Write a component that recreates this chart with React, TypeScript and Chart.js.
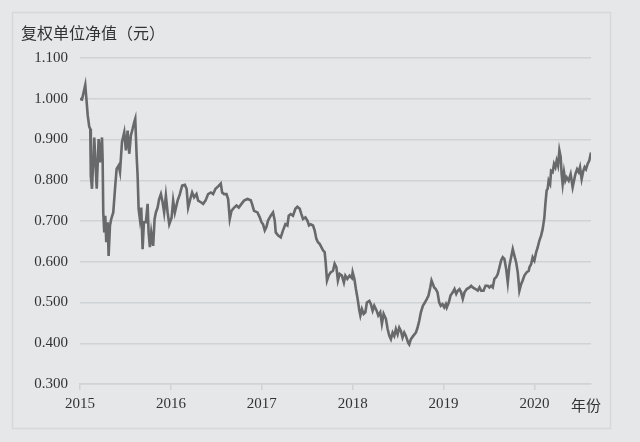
import React, { useEffect, useRef } from "react";
import { Chart, registerables } from "chart.js";

Chart.register(...registerables);

// Fractional years (2015.0 = start of 2015)
const dates: number[] = [
  2015.000, 2015.022, 2015.058, 2015.085, 2015.102, 2015.113, 2015.119, 2015.132, 2015.157, 2015.168,
  2015.184, 2015.205, 2015.220, 2015.242, 2015.249, 2015.256, 2015.267, 2015.278, 2015.289, 2015.304,
  2015.315, 2015.330, 2015.344, 2015.366, 2015.388, 2015.403, 2015.425, 2015.440, 2015.462, 2015.487,
  2015.505, 2015.524, 2015.542, 2015.560, 2015.579, 2015.597, 2015.608, 2015.623, 2015.634, 2015.645,
  2015.659, 2015.674, 2015.689, 2015.703, 2015.725, 2015.744, 2015.755, 2015.769, 2015.784, 2015.805,
  2015.821, 2015.835, 2015.854, 2015.871, 2015.890, 2015.909, 2015.926, 2015.945, 2015.964, 2015.982,
  2016.008, 2016.025, 2016.044, 2016.074, 2016.099, 2016.124, 2016.154, 2016.173, 2016.190, 2016.209,
  2016.234, 2016.256, 2016.282, 2016.300, 2016.330, 2016.355, 2016.381, 2016.410, 2016.440, 2016.465,
  2016.491, 2016.520, 2016.549, 2016.564, 2016.586, 2016.612, 2016.630, 2016.648, 2016.667, 2016.696,
  2016.722, 2016.747, 2016.777, 2016.805, 2016.843, 2016.879, 2016.893, 2016.915, 2016.923, 2016.953,
  2016.978, 2016.997, 2017.014, 2017.033, 2017.051, 2017.069, 2017.099, 2017.124, 2017.143, 2017.154,
  2017.179, 2017.209, 2017.234, 2017.260, 2017.282, 2017.297, 2017.319, 2017.344, 2017.370, 2017.392,
  2017.418, 2017.436, 2017.454, 2017.480, 2017.502, 2017.520, 2017.538, 2017.564, 2017.582, 2017.601,
  2017.618, 2017.637, 2017.656, 2017.674, 2017.692, 2017.703, 2017.718, 2017.736, 2017.758, 2017.784,
  2017.802, 2017.821, 2017.838, 2017.857, 2017.882, 2017.904, 2017.920, 2017.942, 2017.967, 2017.992,
  2018.000, 2018.019, 2018.036, 2018.055, 2018.074, 2018.085, 2018.102, 2018.121, 2018.140, 2018.157,
  2018.184, 2018.201, 2018.220, 2018.238, 2018.264, 2018.282, 2018.304, 2018.322, 2018.341, 2018.366,
  2018.385, 2018.403, 2018.421, 2018.440, 2018.458, 2018.476, 2018.495, 2018.513, 2018.531, 2018.549,
  2018.568, 2018.586, 2018.612, 2018.623, 2018.641, 2018.667, 2018.696, 2018.714, 2018.733, 2018.751,
  2018.773, 2018.795, 2018.817, 2018.835, 2018.854, 2018.868, 2018.882, 2018.897, 2018.915, 2018.934,
  2018.953, 2018.970, 2018.989, 2019.008, 2019.026, 2019.036, 2019.058, 2019.077, 2019.102, 2019.121,
  2019.140, 2019.157, 2019.176, 2019.194, 2019.212, 2019.231, 2019.256, 2019.286, 2019.304, 2019.322,
  2019.352, 2019.377, 2019.396, 2019.414, 2019.440, 2019.462, 2019.487, 2019.505, 2019.524, 2019.542,
  2019.560, 2019.579, 2019.597, 2019.615, 2019.634, 2019.652, 2019.670, 2019.689, 2019.707, 2019.725,
  2019.744, 2019.762, 2019.780, 2019.799, 2019.817, 2019.835, 2019.854, 2019.871, 2019.890, 2019.915,
  2019.938, 2019.945, 2019.964, 2019.981, 2020.000, 2020.019, 2020.036, 2020.055, 2020.074, 2020.091,
  2020.110, 2020.121, 2020.135, 2020.146, 2020.157, 2020.173, 2020.184, 2020.201, 2020.216, 2020.231,
  2020.245, 2020.260, 2020.275, 2020.289, 2020.300, 2020.311, 2020.326, 2020.341, 2020.355, 2020.377,
  2020.399, 2020.421, 2020.436, 2020.451, 2020.470, 2020.487, 2020.502, 2020.520, 2020.538, 2020.553,
  2020.568, 2020.586, 2020.604, 2020.623,
];

// 复权单位净值 (元)
const navValues: number[] = [
  1.000, 0.998, 1.034, 0.959, 0.931, 0.926, 0.810, 0.779, 0.905, 0.852,
  0.779, 0.901, 0.844, 0.905, 0.852, 0.721, 0.672, 0.713, 0.648, 0.697,
  0.614, 0.689, 0.705, 0.721, 0.787, 0.828, 0.836, 0.820, 0.894, 0.918,
  0.873, 0.922, 0.865, 0.910, 0.926, 0.943, 0.951, 0.861, 0.811, 0.730,
  0.705, 0.733, 0.631, 0.697, 0.697, 0.742, 0.672, 0.636, 0.672, 0.639,
  0.705, 0.721, 0.733, 0.754, 0.766, 0.746, 0.721, 0.762, 0.721, 0.692,
  0.708, 0.750, 0.721, 0.750, 0.766, 0.787, 0.789, 0.779, 0.733, 0.750,
  0.770, 0.758, 0.766, 0.750, 0.746, 0.742, 0.750, 0.766, 0.770, 0.766,
  0.779, 0.785, 0.792, 0.770, 0.766, 0.766, 0.754, 0.705, 0.725, 0.733,
  0.738, 0.733, 0.742, 0.750, 0.754, 0.751, 0.742, 0.725, 0.725, 0.721,
  0.709, 0.697, 0.692, 0.677, 0.685, 0.701, 0.713, 0.721, 0.701, 0.672,
  0.665, 0.660, 0.677, 0.692, 0.689, 0.713, 0.717, 0.713, 0.730, 0.735,
  0.730, 0.717, 0.705, 0.709, 0.701, 0.689, 0.692, 0.689, 0.677, 0.656,
  0.648, 0.644, 0.636, 0.628, 0.624, 0.599, 0.554, 0.566, 0.574, 0.578,
  0.595, 0.587, 0.554, 0.570, 0.566, 0.549, 0.566, 0.558, 0.566, 0.560,
  0.574, 0.558, 0.533, 0.509, 0.480, 0.468, 0.484, 0.472, 0.476, 0.500,
  0.504, 0.496, 0.480, 0.492, 0.480, 0.468, 0.476, 0.448, 0.472, 0.460,
  0.435, 0.419, 0.410, 0.426, 0.418, 0.435, 0.422, 0.438, 0.430, 0.414,
  0.426, 0.418, 0.401, 0.397, 0.410, 0.418, 0.426, 0.438, 0.455, 0.476,
  0.492, 0.500, 0.509, 0.517, 0.537, 0.554, 0.546, 0.537, 0.533, 0.525,
  0.500, 0.492, 0.496, 0.488, 0.496, 0.488, 0.500, 0.517, 0.525, 0.533,
  0.521, 0.529, 0.533, 0.525, 0.509, 0.525, 0.533, 0.537, 0.541, 0.537,
  0.533, 0.529, 0.537, 0.529, 0.529, 0.541, 0.541, 0.537, 0.541, 0.537,
  0.558, 0.562, 0.570, 0.586, 0.603, 0.611, 0.607, 0.583, 0.549, 0.590,
  0.611, 0.631, 0.615, 0.599, 0.574, 0.529, 0.545, 0.554, 0.566, 0.574,
  0.578, 0.586, 0.594, 0.611, 0.603, 0.623, 0.635, 0.652, 0.664, 0.680,
  0.709, 0.742, 0.775, 0.779, 0.799, 0.791, 0.823, 0.820, 0.840, 0.832,
  0.848, 0.836, 0.873, 0.857, 0.815, 0.791, 0.820, 0.799, 0.807, 0.799,
  0.815, 0.783, 0.799, 0.815, 0.827, 0.820, 0.832, 0.803, 0.823, 0.832,
  0.827, 0.840, 0.848, 0.868,
];

const yearTicks: number[] = [2015, 2016, 2017, 2018, 2019, 2020];
const yTickValues: number[] = [0.3, 0.4, 0.5, 0.6, 0.7, 0.8, 0.9, 1.0, 1.1];
const yAxisTitle = "复权单位净值（元）";
const xAxisUnit = "年份";

const BG = "#e5e7e9";
const GRID = "#d0d3d6";
const TEXT = "#333333";
const LINE = "#67696b";
const SERIF = "'Liberation Serif', 'DejaVu Serif', serif";
const CJK = "'Noto Sans CJK SC', 'Noto Sans', sans-serif";

const decorPlugin = {
  id: "decor",
  beforeDraw(chart: any) {
    const ctx = chart.ctx;
    ctx.save();
    ctx.fillStyle = BG;
    ctx.fillRect(0, 0, chart.width, chart.height);
    ctx.strokeStyle = "#d6d9db";
    ctx.lineWidth = 1.5;
    ctx.strokeRect(12.5, 12.5, 598, 416);
    ctx.restore();
  },
  afterDraw(chart: any) {
    const ctx = chart.ctx;
    ctx.save();
    ctx.fillStyle = TEXT;
    ctx.font = `400 16px ${CJK}`;
    ctx.textBaseline = "middle";
    ctx.textAlign = "left";
    ctx.fillText(yAxisTitle, 21, 33);
    ctx.font = `400 15px ${CJK}`;
    ctx.fillText(xAxisUnit, 571, 405);
    ctx.restore();
  },
};

export default function App() {
  const ref = useRef<HTMLCanvasElement | null>(null);

  useEffect(() => {
    if (!ref.current) return;
    const points = dates.map((d, i) => ({ x: d, y: navValues[i] }));
    const chart = new Chart(ref.current, {
      type: "line",
      data: {
        datasets: [
          {
            data: points,
            borderColor: LINE,
            borderWidth: 2.6,
            pointRadius: 0,
            tension: 0,
            fill: false,
          },
        ],
      },
      options: {
        animation: false,
        responsive: false,
        maintainAspectRatio: false,
        layout: { padding: { left: 0, right: 49, top: 58, bottom: 0 } },
        plugins: { legend: { display: false }, tooltip: { enabled: false }, title: { display: false } },
        scales: {
          x: {
            type: "linear",
            min: 2015,
            max: 2020.623,
            afterBuildTicks: (scale: any) => {
              scale.ticks = yearTicks.map((v) => ({ value: v }));
            },
            afterFit: (scale: any) => {
              scale.height = 58;
            },
            ticks: {
              autoSkip: false,
              maxRotation: 0,
              color: TEXT,
              font: { family: SERIF, size: 15 },
              padding: 5,
              callback: (v: any) => String(v),
            },
            grid: {
              drawOnChartArea: false,
              drawTicks: true,
              tickLength: 6,
              color: GRID,
              lineWidth: 1.5,
            },
            border: { display: true, color: GRID, width: 1.5 },
          },
          y: {
            type: "linear",
            min: 0.3,
            max: 1.1,
            afterBuildTicks: (scale: any) => {
              scale.ticks = yTickValues.map((v) => ({ value: v }));
            },
            afterFit: (scale: any) => {
              scale.width = 80;
            },
            ticks: {
              color: TEXT,
              font: { family: SERIF, size: 15 },
              padding: 12,
              callback: (v: any) => Number(v).toFixed(3),
            },
            grid: { drawTicks: false, color: GRID, lineWidth: 1.5 },
            border: { display: false },
          },
        },
      },
      plugins: [decorPlugin],
    });
    return () => chart.destroy();
  }, []);

  return (
    <div style={{ position: "fixed", left: 0, top: 0, width: 640, height: 442, background: BG }}>
      <canvas ref={ref} width={640} height={442} style={{ display: "block", width: 640, height: 442 }} />
    </div>
  );
}
